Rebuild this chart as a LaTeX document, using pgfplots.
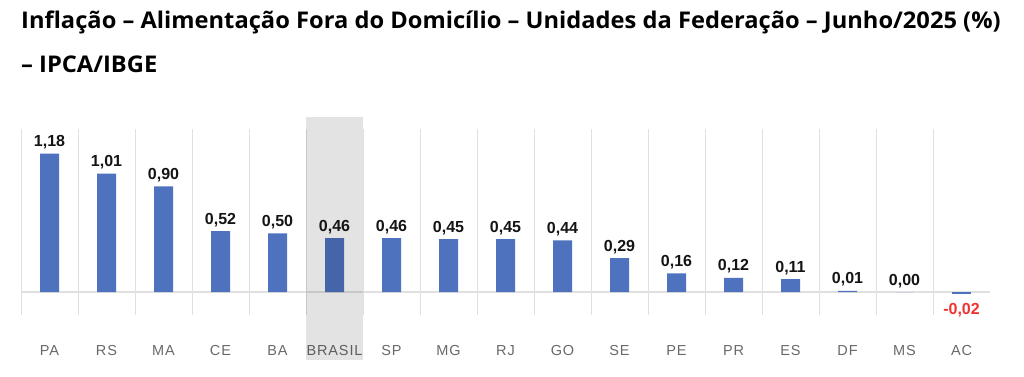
\documentclass[border=0pt]{standalone}
\usepackage{pgfplots}
\pgfplotsset{compat=1.18}
\usepackage{fontspec}
\setmainfont{Liberation Sans}
\newfontfamily\titlefont[FakeStretch=1.03]{Open Sans}
\newfontfamily\catfont[LetterSpace=6]{Liberation Sans}
\definecolor{barblue}{RGB}{79,114,190}
\definecolor{gridgray}{RGB}{224,224,224}
\definecolor{catgray}{RGB}{105,105,105}
\definecolor{negred}{RGB}{240,50,50}

\pgfplotstableread{
x y
0 1.18
1 1.01
2 0.90
3 0.52
4 0.50
5 0.46
6 0.46
7 0.45
8 0.45
9 0.44
10 0.29
11 0.16
12 0.12
13 0.11
14 0.01
15 0.00
}\posdata
\pgfplotstableread{
x y
16 -0.02
}\negdata

\begin{document}
\begin{tikzpicture}[x=1pt,y=1pt]
\path[use as bounding box] (0,0) rectangle (1024,376);
\node[anchor=base west, inner sep=0, font=\titlefont\bfseries\fontsize{23}{27}\selectfont] at (21,347.5) {Inflação – Alimentação Fora do Domicílio – Unidades da Federação – Junho/2025 (\%)};
\node[anchor=base west, inner sep=0, font=\titlefont\bfseries\fontsize{23}{27}\selectfont] at (21,303.5) {– IPCA/IBGE};
\begin{axis}[
  at={(21pt,61pt)}, anchor=south west,
  scale only axis, width=969pt, height=186pt,
  xmin=-0.5, xmax=16.5, ymin=-0.196, ymax=1.39,
  axis line style={draw=none},
  major tick length=0pt, minor tick length=0pt,
  ytick=\empty,
  xtick={0,...,16},
  xticklabels={PA,RS,MA,CE,BA,BRASIL,SP,MG,RJ,GO,SE,PE,PR,ES,DF,MS,AC},
  xticklabel style={anchor=base, yshift=-40pt, font=\catfont\fontsize{14.5}{16}\selectfont, text=catgray},
  minor xtick={-0.5,0.5,...,15.5},
  xminorgrids,
  minor grid style={draw=gridgray, line width=1pt},
  clip=false,
  /pgf/number format/fixed,
  /pgf/number format/fixed zerofill,
  /pgf/number format/precision=2,
  /pgf/number format/use comma,
  /pgf/number format/assume math mode=true,
]
\draw[gridgray, line width=1.5pt] (axis cs:-0.5,0) -- (axis cs:16.5,0);
\addplot[ybar, bar width=19pt, bar shift=0pt, fill=barblue, draw=none,
  nodes near coords,
  every node near coord/.append style={anchor=base, yshift=7pt, inner sep=0pt, text=black!92, font=\bfseries\fontsize{16}{16}\selectfont}]
  table[x=x,y=y]{\posdata};
\addplot[ybar, bar width=19pt, bar shift=0pt, fill=barblue, draw=none,
  nodes near coords,
  every node near coord/.append style={anchor=north, yshift=-9pt, inner sep=0pt, text=negred, font=\bfseries\fontsize{16}{16}\selectfont}]
  table[x=x,y=y]{\negdata};
\fill[black, fill opacity=0.11] (axis cs:4.5,-0.58) rectangle (axis cs:5.5,1.49);
\end{axis}
\end{tikzpicture}
\end{document}
